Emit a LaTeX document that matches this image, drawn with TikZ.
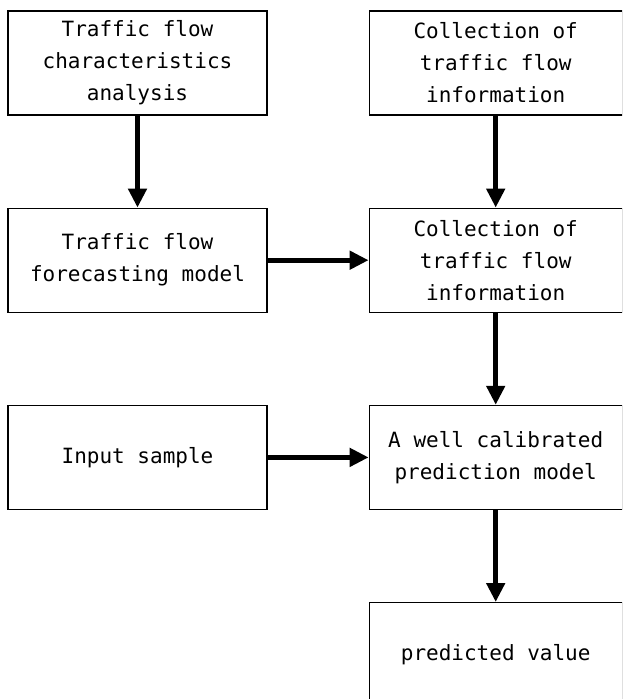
\documentclass[tikz,border=0pt]{standalone}
\usepackage{fontspec}
\setmainfont{DejaVu Sans Mono}
\usetikzlibrary{arrows.meta,positioning}

\begin{document}
\begin{tikzpicture}[x=1pt, y=-1pt,
  every node/.style={draw, align=center, line width=1.2pt, inner sep=0pt, minimum height=104pt, font=\fontsize{21}{32}\selectfont},
  leftbox/.style={minimum width=259pt},
  rightbox/.style={minimum width=253pt},
  flow/.style={-{Triangle[width=18pt,length=19pt]}, line width=5pt}
]
\useasboundingbox (0,0) rectangle (622,699);
\clip (0,0) rectangle (622,699);

\node[leftbox] (tfc) at (137.5,63) {Traffic flow\\characteristics\\analysis};
\node[rightbox, right=101pt of tfc] (col) {Collection of\\traffic flow\\information};
\node[leftbox, below=92pt of tfc] (tfm) {Traffic flow\\forecasting model};
\node[rightbox, below=92pt of col] (col2) {Collection of\\traffic flow\\information};
\node[leftbox, below=92pt of tfm] (inp) {Input sample};
\node[rightbox, below=92pt of col2] (cal) {A well calibrated\\prediction model};
\node[rightbox, below=92pt of cal] (pv) {predicted value};

\draw[flow] (tfc.south) -- (tfm.north);
\draw[flow] (col.south) -- (col2.north);
\draw[flow] (tfm.east) -- (col2.west);
\draw[flow] (col2.south) -- (cal.north);
\draw[flow] (inp.east) -- (cal.west);
\draw[flow] (cal.south) -- (pv.north);
\end{tikzpicture}
\end{document}
